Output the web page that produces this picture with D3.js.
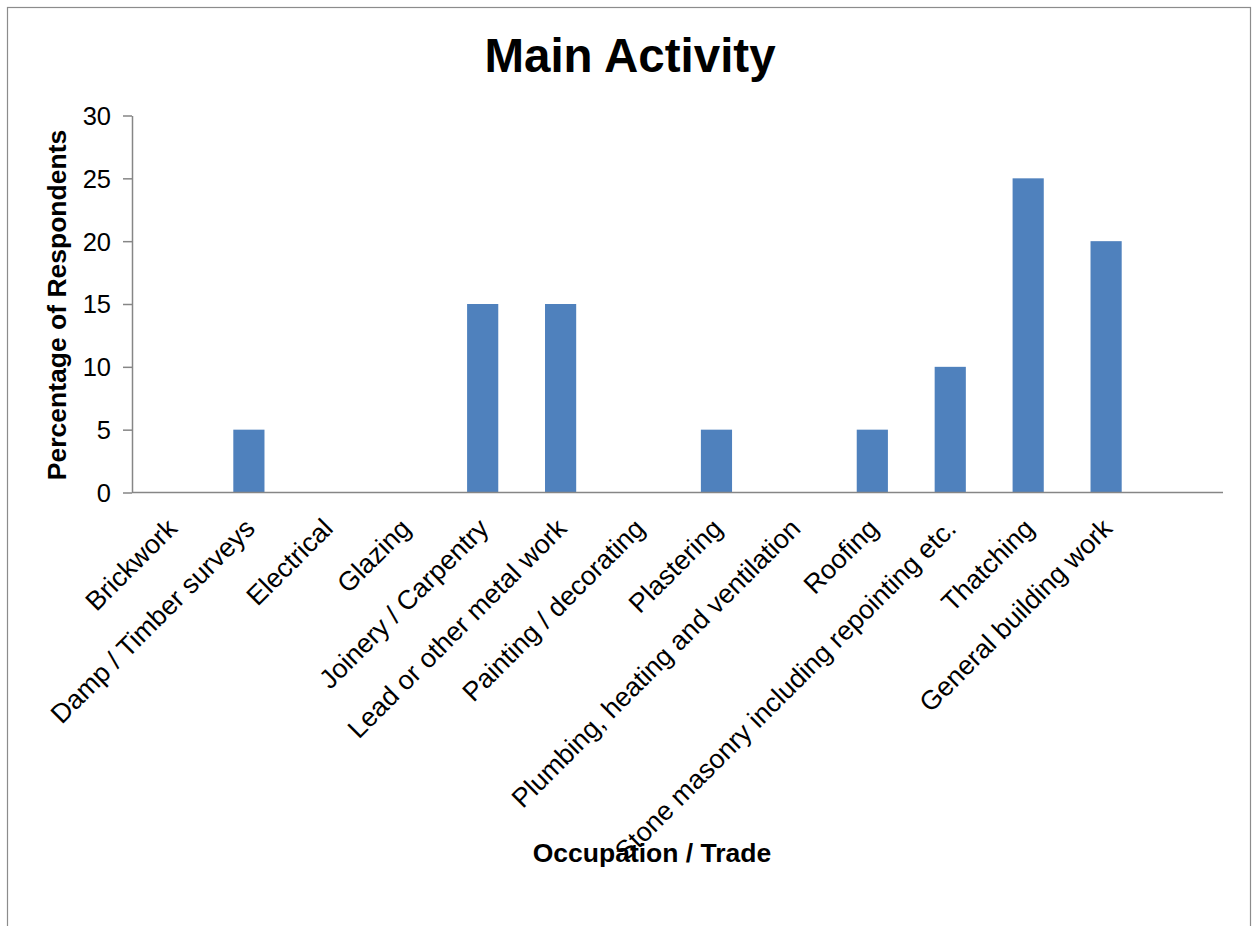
<!DOCTYPE html>
<html>
<head>
<meta charset="utf-8">
<script src="https://cdn.jsdelivr.net/npm/d3@7"></script>
<style>
  html, body { margin: 0; padding: 0; background: #fff; }
  svg { display: block; font-family: "Liberation Sans", Arial, sans-serif; }
</style>
</head>
<body>
<svg id="chart" width="1252" height="926"></svg>
<script>
// Main activity of respondents, by trade (percent)
const categories = [
  "Brickwork",
  "Damp / Timber surveys",
  "Electrical",
  "Glazing",
  "Joinery / Carpentry",
  "Lead or other metal work",
  "Painting / decorating",
  "Plastering",
  "Plumbing, heating and ventilation",
  "Roofing",
  "Stone masonry including repointing etc.",
  "Thatching",
  "General building work"
];
const percentages = [0, 5, 0, 0, 15, 15, 0, 5, 0, 5, 10, 25, 20];
const yTicks = [0, 5, 10, 15, 20, 25, 30];

const titleText = "Main Activity";
const xTitle = "Occupation / Trade";
const yTitle = "Percentage of Respondents";

const svg = d3.select("#chart");
const axisColor = "#868686";
const barColor = "#4F81BD";

// Chart frame
svg.append("rect")
  .attr("x", 7.5).attr("y", 7.5)
  .attr("width", 1243).attr("height", 1000)
  .attr("fill", "none").attr("stroke", "#8c8c8c").attr("stroke-width", 1.2);

const plot = { left: 132, right: 1223, top: 115.5, bottom: 492.5 };

// The category axis keeps one trailing empty slot after the last trade
const slots = categories.concat([" "]);
const x = d3.scaleBand()
  .domain(slots)
  .range([plot.left, plot.right])
  .paddingInner(0.6)
  .paddingOuter(0.3);

const y = d3.scaleLinear()
  .domain([0, 30])
  .range([plot.bottom, plot.top]);

// Bars
svg.append("g")
  .selectAll("rect")
  .data(categories.map((c, i) => ({ c, v: percentages[i] })))
  .join("rect")
  .attr("x", d => x(d.c))
  .attr("width", x.bandwidth())
  .attr("y", d => y(d.v))
  .attr("height", d => y(0) - y(d.v))
  .attr("fill", barColor);

// Value axis
const yAxis = svg.append("g")
  .attr("transform", `translate(${plot.left},0)`)
  .call(d3.axisLeft(y).tickValues(yTicks).tickSize(9).tickPadding(12).tickSizeOuter(0));
yAxis.select(".domain").attr("stroke", axisColor).attr("stroke-width", 1.5);
yAxis.selectAll(".tick line").attr("stroke", axisColor).attr("stroke-width", 1.5);
yAxis.selectAll(".tick text")
  .attr("fill", "#000")
  .style("font-size", "25.5px")
  .attr("dy", "0.35em");

// Category axis
const xAxis = svg.append("g")
  .attr("transform", `translate(0,${plot.bottom})`)
  .call(d3.axisBottom(x).tickSize(0).tickSizeOuter(0).tickFormat(d => d));
xAxis.select(".domain").attr("stroke", axisColor).attr("stroke-width", 1.5)
  .attr("d", `M${plot.left},0H${plot.right}`);
xAxis.selectAll(".tick text")
  .attr("fill", "#000")
  .style("font-size", "26.8px")
  .attr("text-anchor", "end")
  .attr("y", 0)
  .attr("dy", "0.35em")
  .attr("transform", "translate(1,31) rotate(-45)");

// Titles
svg.append("text")
  .attr("x", 630).attr("y", 72)
  .attr("text-anchor", "middle")
  .style("font-size", "47.5px").style("font-weight", "bold")
  .text(titleText);

svg.append("text")
  .attr("x", 652).attr("y", 862)
  .attr("text-anchor", "middle")
  .style("font-size", "26.5px").style("font-weight", "bold")
  .text(xTitle);

svg.append("text")
  .attr("transform", "translate(66,305) rotate(-90)")
  .attr("text-anchor", "middle")
  .style("font-size", "26.5px").style("font-weight", "bold")
  .text(yTitle);
</script>
</body>
</html>
